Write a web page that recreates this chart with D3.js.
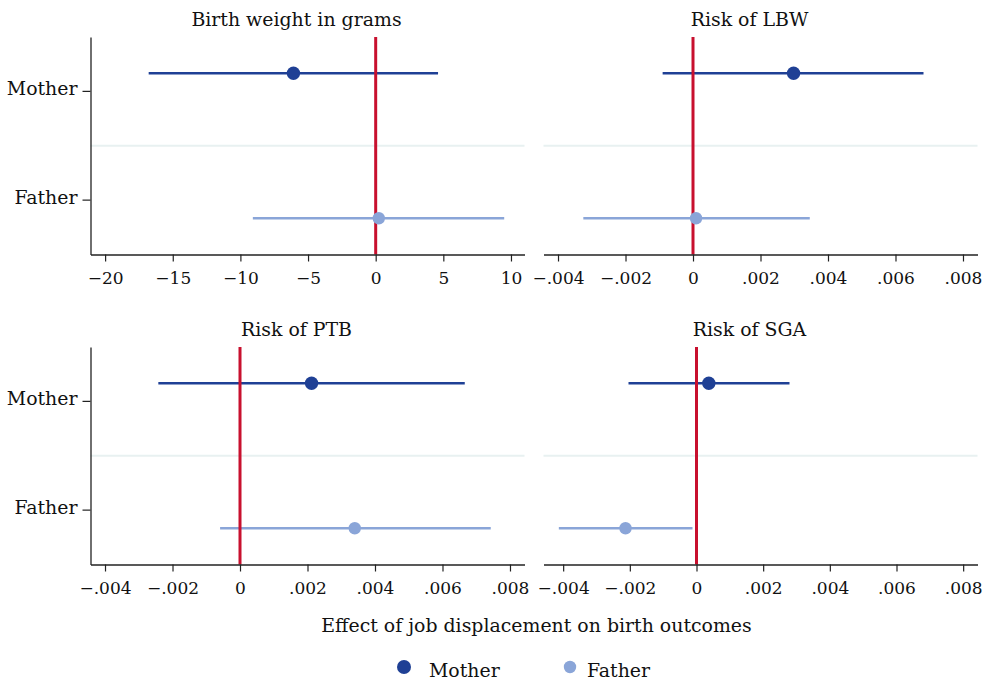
<!DOCTYPE html>
<html>
<head>
<meta charset="utf-8">
<script src="https://cdn.jsdelivr.net/npm/d3@7"></script>
<style>
  html, body { margin: 0; padding: 0; background: #fff; }
  svg { display: block; font-family: "DejaVu Serif", serif; }
</style>
</head>
<body>
<svg id="chart" width="984" height="683"></svg>
<script>
// ---- data ----
const panelTitles = ["Birth weight in grams", "Risk of LBW", "Risk of PTB", "Risk of SGA"];
const groups = ["Mother", "Father"];
const estMother = [-6.08, 0.00298, 0.00212, 0.00037];
const loMother  = [-16.78, -0.00090, -0.00242, -0.00204];
const hiMother  = [4.61, 0.00683, 0.00666, 0.00279];
const estFather = [0.23, 0.00009, 0.00340, -0.00213];
const loFather  = [-9.08, -0.00325, -0.00059, -0.00413];
const hiFather  = [9.50, 0.00346, 0.00743, -0.00012];
const xTicksBW = [-20, -15, -10, -5, 0, 5, 10];
const xTicksRisk = [-0.004, -0.002, 0, 0.002, 0.004, 0.006, 0.008];
const xDomains = [[-21.08, 11.0], [-0.00443, 0.00843], [-0.00443, 0.00843], [-0.00459, 0.00843]];
const axisTitle = "Effect of job displacement on birth outcomes";

// ---- style ----
const colors = { Mother: "#1f4095", Father: "#8aa5d8" };
const radii = { Mother: 6.7, Father: 6.2 };
const red = "#c8102e";
const TICKFONT = 17;
const FONT = 18.9;

const svg = d3.select("#chart");

const panels = [
  { x0: 90.5, x1: 524.5, y0: 37, y1: 254.5, yaxis: true },
  { x0: 543.5, x1: 977.5, y0: 37, y1: 254.5, yaxis: false },
  { x0: 90.5, x1: 524.5, y0: 347, y1: 564.5, yaxis: true },
  { x0: 543.5, x1: 977.5, y0: 347, y1: 564.5, yaxis: false }
];

const fmt = d => {
  if (d === 0) return "0";
  const s = String(Math.abs(d)).replace(/^0\./, ".");
  return (d < 0 ? "\u2212" : "") + s;
};

panels.forEach((p, i) => {
  const g = svg.append("g");
  const x = d3.scaleLinear().domain(xDomains[i]).range([p.x0, p.x1]);
  const yPt = d3.scalePoint().domain(groups).range([p.y0, p.y1]).padding(0.25);
  const yLab = d3.scaleBand().domain(groups).range([p.y0, p.y1]);

  // separator
  const sepY = yLab("Father");
  g.append("line")
    .attr("x1", p.x0).attr("x2", p.x1)
    .attr("y1", sepY).attr("y2", sepY)
    .attr("stroke", "#e8f1f1").attr("stroke-width", 2);

  const rows = groups.map((grp, k) => ({
    grp,
    est: k === 0 ? estMother[i] : estFather[i],
    lo: k === 0 ? loMother[i] : loFather[i],
    hi: k === 0 ? hiMother[i] : hiFather[i]
  }));

  // CI lines
  g.selectAll("line.ci").data(rows).enter().append("line")
    .attr("class", "ci")
    .attr("x1", d => x(d.lo)).attr("x2", d => x(d.hi))
    .attr("y1", d => yPt(d.grp)).attr("y2", d => yPt(d.grp))
    .attr("stroke", d => colors[d.grp]).attr("stroke-width", 2.4);

  // zero line
  g.append("line")
    .attr("x1", x(0)).attr("x2", x(0))
    .attr("y1", p.y0).attr("y2", p.y1)
    .attr("stroke", red).attr("stroke-width", 3);

  // points
  g.selectAll("circle.pt").data(rows).enter().append("circle")
    .attr("class", "pt")
    .attr("cx", d => x(d.est)).attr("cy", d => yPt(d.grp))
    .attr("r", d => radii[d.grp])
    .attr("fill", d => colors[d.grp]);

  // x axis
  const xAxis = d3.axisBottom(x)
    .tickValues(i === 0 ? xTicksBW : xTicksRisk)
    .tickFormat(fmt)
    .tickSize(7).tickSizeOuter(0).tickPadding(10);
  const gx = g.append("g").attr("transform", `translate(0,${p.y1})`).call(xAxis);
  gx.select(".domain").attr("stroke", "#222").attr("stroke-width", 1.3);
  gx.selectAll(".tick line").attr("stroke", "#222").attr("stroke-width", 1.2);
  gx.selectAll(".tick text").attr("fill", "#111").style("font-size", TICKFONT + "px")
    .style("font-family", "DejaVu Serif, serif");

  // y axis
  if (p.yaxis) {
    const yAxis = d3.axisLeft(yLab).tickSize(8).tickSizeOuter(0).tickPadding(5);
    const gy = g.append("g").attr("transform", `translate(${p.x0},0)`).call(yAxis);
    gy.select(".domain").attr("stroke", "#222").attr("stroke-width", 1.3);
    gy.selectAll(".tick line").attr("stroke", "#222").attr("stroke-width", 1.2);
    gy.selectAll(".tick text").attr("fill", "#111").attr("dy", "0.2em")
      .style("font-size", FONT + "px").style("font-family", "DejaVu Serif, serif");
  }

  // title
  g.append("text")
    .attr("x", (p.x0 + p.x1) / 2 - 11)
    .attr("y", p.y0 - 11)
    .attr("text-anchor", "middle")
    .attr("fill", "#111")
    .style("font-size", FONT + "px")
    .text(panelTitles[i]);
});

// axis title
svg.append("text")
  .attr("x", 536.5).attr("y", 632)
  .attr("text-anchor", "middle").attr("fill", "#111")
  .style("font-size", FONT + "px")
  .text(axisTitle);

// legend
const legendDotX = [404, 570];
const legendTextX = [429, 587];
const lg = svg.append("g");
groups.forEach((grp, k) => {
  lg.append("circle").attr("cx", legendDotX[k]).attr("cy", 667)
    .attr("r", k === 0 ? 7 : 6.2).attr("fill", colors[grp]);
  lg.append("text").attr("x", legendTextX[k]).attr("y", 677)
    .attr("fill", "#111").style("font-size", FONT + "px").text(grp);
});
</script>
</body>
</html>
